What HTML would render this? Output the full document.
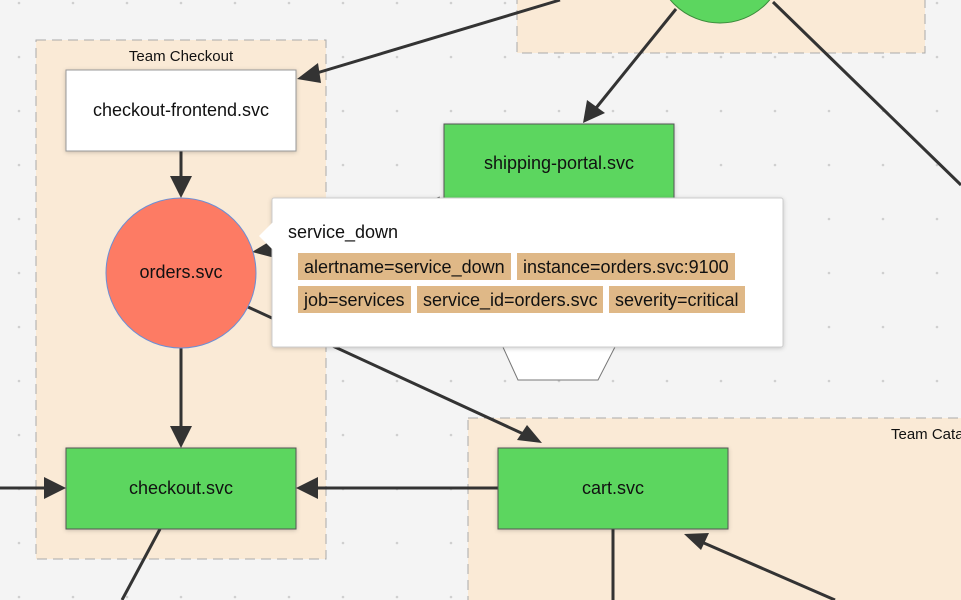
<!DOCTYPE html>
<html><head><meta charset="utf-8"><style>
html,body{margin:0;padding:0;background:#f4f4f4;}
svg{display:block;font-family:"Liberation Sans",sans-serif;}
</style></head><body>
<svg width="961" height="600" viewBox="0 0 961 600" xmlns="http://www.w3.org/2000/svg">
<defs>
<pattern id="dots" x="19" y="3" width="54" height="54" patternUnits="userSpaceOnUse">
<circle cx="0" cy="0" r="1.3" fill="#cfcfcf"/><circle cx="54" cy="0" r="1.3" fill="#cfcfcf"/><circle cx="0" cy="54" r="1.3" fill="#cfcfcf"/><circle cx="54" cy="54" r="1.3" fill="#cfcfcf"/>
</pattern>
<marker id="ar" viewBox="0 0 10 10" refX="10" refY="5" markerWidth="8" markerHeight="8" markerUnits="userSpaceOnUse" orient="auto">
</marker>
<filter id="sh" x="-10%" y="-10%" width="120%" height="130%"><feDropShadow dx="0" dy="1" stdDeviation="2" flood-opacity="0.2"/></filter>
</defs>
<rect width="961" height="600" fill="#f4f4f4"/>
<rect width="961" height="600" fill="url(#dots)"/>
<!-- groups -->
<rect x="517" y="-10" width="408" height="63" fill="#faead6" stroke="#aaa" stroke-dasharray="10,6"/>
<rect x="36" y="40" width="290" height="519" fill="#faead6" stroke="#aaa" stroke-dasharray="10,6"/>
<text x="181" y="61" font-size="15" text-anchor="middle" fill="#111">Team Checkout</text>
<rect x="468" y="418" width="510" height="200" fill="#faead6" stroke="#aaa" stroke-dasharray="10,6"/>
<text x="891" y="439" font-size="15" fill="#111">Team Catalog</text>
<!-- edges -->
<g stroke="#333" stroke-width="3" fill="none">
<line x1="560" y1="0" x2="310" y2="75"/>
<line x1="676" y1="9" x2="592" y2="113"/>
<line x1="773" y1="2" x2="961" y2="185"/>
<line x1="181" y1="151" x2="181" y2="185"/>
<line x1="181" y1="348" x2="181" y2="436"/>
<line x1="248" y1="307" x2="530" y2="437"/>
<line x1="0" y1="488" x2="54" y2="488"/>
<line x1="498" y1="488" x2="308" y2="488"/>
<line x1="160" y1="529" x2="122" y2="600"/>
<line x1="613" y1="529" x2="613" y2="600"/>
<line x1="835" y1="600" x2="697" y2="540"/>
<line x1="440" y1="198" x2="270" y2="250"/>
</g>
<g fill="#333">
<polygon points="297,79 318,63 321,83"/>
<polygon points="583,123 587,100 605,113"/>
<polygon points="181,198 170,176 192,176"/>
<polygon points="181,448 170,426 192,426"/>
<polygon points="542,443 517,440 527,425"/>
<polygon points="66,488 44,477 44,499"/>
<polygon points="296,488 318,477 318,499"/>
<polygon points="684,534 709,533 701,550"/>
<polygon points="252,252 272,240 275,258"/>
</g>
<!-- nodes -->
<circle cx="720" cy="-42" r="65" fill="#5cd65f" stroke="#3a8a3a"/>
<rect x="66" y="70" width="230" height="81" fill="#fff" stroke="#999" filter="url(#sh)"/>
<text x="181" y="116" font-size="18" text-anchor="middle" fill="#111">checkout-frontend.svc</text>
<rect x="444" y="124" width="230" height="80" fill="#5cd65f" stroke="#555" filter="url(#sh)"/>
<text x="559" y="169" font-size="18" text-anchor="middle" fill="#111">shipping-portal.svc</text>
<circle cx="181" cy="273" r="75" fill="#fd7b64" stroke="#6b8fd6"/>
<text x="181" y="278" font-size="18" text-anchor="middle" fill="#111">orders.svc</text>
<polygon points="502,345 616,345 598,380 518,380" fill="#fff" stroke="#777"/>
<rect x="66" y="448" width="230" height="81" fill="#5cd65f" stroke="#555" filter="url(#sh)"/>
<text x="181" y="494" font-size="18" text-anchor="middle" fill="#111">checkout.svc</text>
<rect x="498" y="448" width="230" height="81" fill="#5cd65f" stroke="#555" filter="url(#sh)"/>
<text x="613" y="494" font-size="18" text-anchor="middle" fill="#111">cart.svc</text>
<!-- tooltip -->
<rect x="272" y="198" width="511" height="149" rx="2" fill="#fff" stroke="#ccc" filter="url(#sh)"/>
<polygon points="273,222 259,236 273,250" fill="#fff"/>
<text x="288" y="238" font-size="18" fill="#111">service_down</text>
<g fill="#dfb887">
<rect x="298" y="253" width="213" height="27"/>
<rect x="517" y="253" width="218" height="27"/>
<rect x="298" y="286" width="113" height="27"/>
<rect x="417" y="286" width="186" height="27"/>
<rect x="609" y="286" width="136" height="27"/>
</g>
<g font-size="18" fill="#111">
<text x="304" y="273">alertname=service_down</text>
<text x="523" y="273">instance=orders.svc:9100</text>
<text x="304" y="306">job=services</text>
<text x="423" y="306">service_id=orders.svc</text>
<text x="615" y="306">severity=critical</text>
</g>
</svg>
</body></html>
